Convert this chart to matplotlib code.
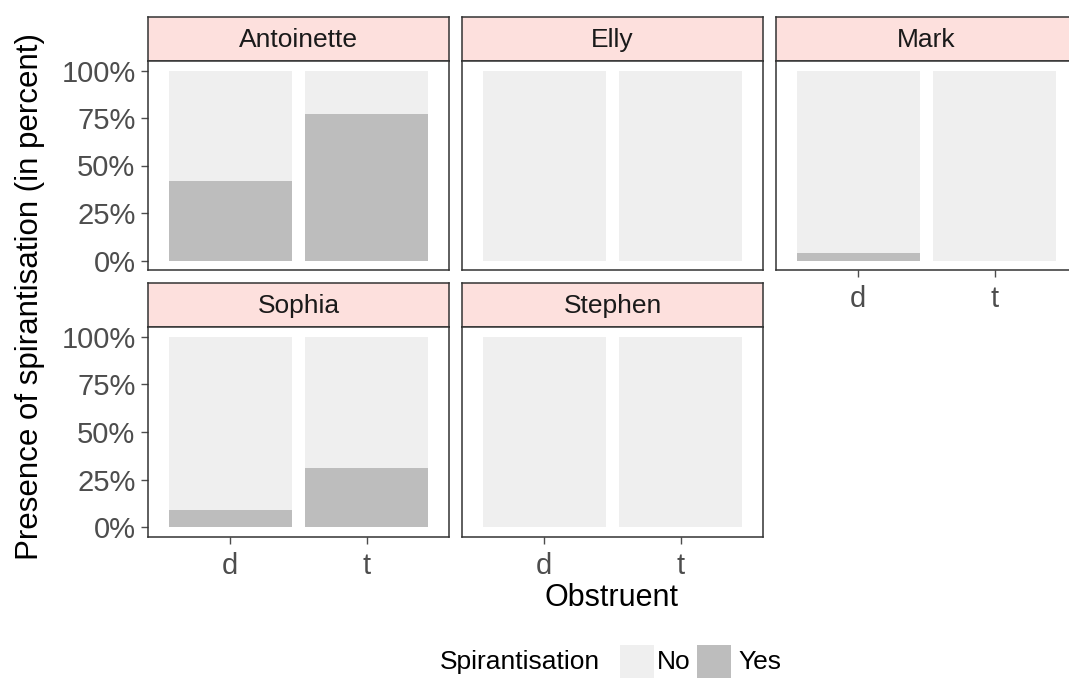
import matplotlib
matplotlib.use("Agg")
import matplotlib.pyplot as plt
from matplotlib.patches import Rectangle
import numpy as np

plt.rcParams['font.family'] = ['Liberation Sans', 'DejaVu Sans']

speakers = ["Antoinette", "Elly", "Mark", "Sophia", "Stephen"]
obstruents = ["d", "t"]
# percentage of "Yes" (spirantisation present) per speaker and obstruent
yes_pct = {
    "Antoinette": [42, 77],
    "Elly": [0, 0],
    "Mark": [4, 0],
    "Sophia": [9, 31],
    "Stephen": [0, 0],
}
y_ticks = [0, 25, 50, 75, 100]
y_tick_labels = ["0%", "25%", "50%", "75%", "100%"]

W, H = 1069, 681
fig = plt.figure(figsize=(W / 100, H / 100), dpi=100)

def px_axes(x0, top, w, h):
    return fig.add_axes([x0 / W, 1 - (top + h) / H, w / W, h / H])

col_left = [148, 462, 776]
pw = 301
rows = [(17, 44, 209), (283, 44, 210)]  # strip top, strip height, plot height

col_no = "#efefef"
col_yes = "#bdbdbd"
strip_fill = "#fde0dd"
border = "#333333"
tick_col = "#4d4d4d"

positions = {
    "Antoinette": (0, 0), "Elly": (0, 1), "Mark": (0, 2),
    "Sophia": (1, 0), "Stephen": (1, 1),
}
show_x = {"Mark", "Sophia", "Stephen"}

for sp in speakers:
    r, c = positions[sp]
    stop, sh, ph = rows[r]
    x0 = col_left[c]
    # strip
    sax = px_axes(x0, stop, pw, sh)
    sax.set_xticks([]); sax.set_yticks([])
    sax.set_facecolor(strip_fill)
    for s in sax.spines.values():
        s.set_color(border); s.set_linewidth(1.1)
    sax.text(0.5, 0.47, sp, ha="center", va="center", fontsize=19,
             color="#1a1a1a", transform=sax.transAxes)
    # panel
    ax = px_axes(x0, stop + sh, pw, ph)
    xs = np.arange(len(obstruents))
    yes = np.array(yes_pct[sp], dtype=float)
    no = 100 - yes
    ax.bar(xs, yes, width=0.9, color=col_yes, linewidth=0)
    ax.bar(xs, no, bottom=yes, width=0.9, color=col_no, linewidth=0)
    ax.set_xlim(-0.6, 1.6)
    ax.set_ylim(-5, 105)
    for s in ax.spines.values():
        s.set_color(border); s.set_linewidth(1.1)
    ax.tick_params(colors=tick_col, length=5, width=1, labelsize=21,
                   labelcolor=tick_col)
    ax.tick_params(axis="y", pad=4)
    ax.tick_params(axis="x", pad=6)
    ax.set_yticks(y_ticks)
    if c == 0:
        ax.set_yticklabels(y_tick_labels)
    else:
        ax.tick_params(axis="y", left=False, labelleft=False)
    ax.set_xticks(xs)
    if sp in show_x:
        ax.set_xticklabels(obstruents)
    else:
        ax.tick_params(axis="x", bottom=False, labelbottom=False)

fig.text(30 / W, 1 - 297 / H, "Presence of spirantisation (in percent)",
         rotation=90, ha="center", va="center", fontsize=22.5, color="black")
fig.text(612 / W, 1 - 598 / H, "Obstruent", ha="center", va="center",
         fontsize=22, color="black")

# legend
ly = 662
fig.text(440 / W, 1 - ly / H, "Spirantisation", ha="left", va="center",
         fontsize=19, color="black")
fig.patches.append(Rectangle((620 / W, 1 - 678 / H), 34 / W, 33 / H,
                             transform=fig.transFigure, facecolor=col_no,
                             edgecolor="none"))
fig.text(657 / W, 1 - ly / H, "No", ha="left", va="center", fontsize=19)
fig.patches.append(Rectangle((697 / W, 1 - 678 / H), 34 / W, 33 / H,
                             transform=fig.transFigure, facecolor=col_yes,
                             edgecolor="none"))
fig.text(738 / W, 1 - ly / H, "Yes", ha="left", va="center", fontsize=19)

fig.savefig("out.png", dpi=100)
